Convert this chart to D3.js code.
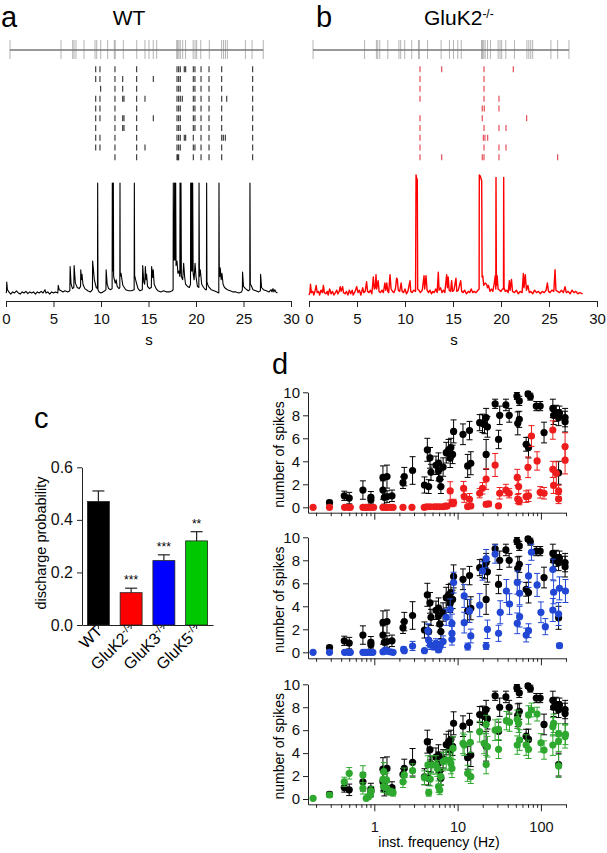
<!DOCTYPE html>
<html><head><meta charset="utf-8">
<script src="https://cdn.jsdelivr.net/npm/d3@7"></script>
<style>body{margin:0;background:#fff}svg text{font-family:"Liberation Sans",Arial,sans-serif}</style>
</head><body>
<svg id="fig" width="607" height="853"></svg>
<script>
// ---------------- DATA ----------------
const stimTimes = [0.42,5.79,7.02,7.16,7.37,8.21,9.37,9.55,9.97,10.7,11.4,11.5,12.35,13.76,14.63,15.05,15.5,15.86,17.97,18.07,18.2,18.35,18.6,18.9,19.7,19.9,20.07,20.5,21.4,22.7,22.9,23.1,23.3,25.2,25.9,27.08];

const rasterWT = [
 [9.44,9.89,11.47,13.75,18.0,18.17,18.35,18.77,18.91,19.72,19.89,20.53,21.37,22.7,25.96],
 [9.44,9.89,11.47,12.28,13.75,15.51,18.0,18.17,18.35,19.72,19.89,20.53,21.37,22.7,25.96],
 [9.96,11.47,12.28,13.75,18.0,18.17,18.35,19.72,19.89,20.53,21.37,22.7,25.96],
 [9.44,9.89,11.47,12.28,12.42,13.75,14.63,18.0,18.17,18.35,18.56,19.72,19.89,20.53,21.37,22.7,23.23,25.96],
 [9.44,9.89,11.47,13.75,18.0,18.17,18.35,19.72,19.89,20.53,21.37,22.7,25.96],
 [9.44,9.89,11.47,12.28,12.42,13.75,15.51,18.0,18.17,18.35,19.72,19.89,20.53,21.37,22.7,25.96],
 [9.44,11.47,12.28,12.42,13.75,18.0,18.17,18.35,19.72,19.89,20.53,21.37,22.7,25.96],
 [9.44,9.89,11.47,13.75,18.0,18.17,18.35,18.77,18.91,19.72,20.53,21.37,22.7,22.88,23.09,25.96],
 [9.44,9.89,11.47,13.75,14.63,18.0,18.17,18.35,19.72,19.89,20.53,21.37,22.7,25.96],
 [11.47,13.75,18.0,18.08,18.17,19.72,20.53,21.37,22.7,25.96]
];
const rasterKO = [
 [11.56,13.82,18.23,21.28],
 [11.56,18.23],
 [11.56,18.23],
 [11.56,18.23,19.79],
 [18.05,18.26,19.79],
 [11.56,18.05,22.67],
 [11.56,18.23,19.79,20.52],
 [11.56,18.16,18.33,18.61],
 [11.56,18.23,19.79,20.52],
 [11.56,13.82,18.05,18.23,19.79,25.9]
];

const traceWT = [[0,0],[0.05,1],[0.08,10],[0.15,3],[0.3,1],[0.5,-1],[0.7,1],[0.9,0],[1.1,2],[1.3,0],[1.5,-1],[1.7,1],[1.9,0],[2.1,1.5],[2.3,-0.5],[2.5,1],[2.7,0],[2.9,1],[3.1,-1],[3.3,1],[3.5,0],[3.7,1.5],[3.9,0],[4.1,3],[4.2,0],[4.4,1],[4.6,-1],[4.8,1],[5.0,0],[5.2,1],[5.45,0],[5.5,7],[5.6,3],[5.8,2],[6.0,1],[6.2,2],[6.5,1],[6.72,2],[6.75,24],[6.85,8],[7.0,4],[7.14,5],[7.17,25],[7.3,9],[7.5,5],[7.7,4],[7.85,6],[7.87,21],[7.95,12],[8.0,17],[8.1,8],[8.3,4],[8.6,2],[8.9,1],[9.1,3],[9.12,29],[9.3,12],[9.5,5],[9.63,4],[9.65,100],[9.68,3],[9.8,1],[10.0,0],[10.2,1],[10.4,2],[10.52,3],[10.54,21],[10.65,8],[10.8,4],[11.0,3],[11.17,4],[11.19,100],[11.21,20],[11.28,20],[11.3,100],[11.33,15],[11.5,9],[11.6,12],[11.7,6],[11.9,4],[11.98,5],[12.0,100],[12.02,15],[12.1,18],[12.3,7],[12.6,3],[12.9,2],[13.2,2],[13.49,3],[13.51,100],[13.54,16],[13.7,10],[13.9,4],[14.1,2],[14.35,3],[14.39,25],[14.5,10],[14.6,8],[14.67,24],[14.75,12],[14.8,17],[14.9,6],[15.1,4],[15.3,5],[15.33,24],[15.45,14],[15.5,21],[15.6,8],[15.8,4],[16.0,2],[16.3,1],[16.6,2],[16.9,1],[17.2,1],[17.5,2],[17.59,3],[17.61,100],[17.64,30],[17.72,30],[17.75,100],[17.78,30],[17.84,30],[17.86,100],[17.9,25],[18.0,29],[18.1,18],[18.2,20],[18.3,15],[18.32,100],[18.36,18],[18.4,18],[18.42,100],[18.46,15],[18.6,12],[18.7,27],[18.8,15],[18.9,8],[19.1,6],[19.3,5],[19.42,8],[19.44,100],[19.47,20],[19.52,20],[19.54,100],[19.57,20],[19.62,20],[19.65,100],[19.7,18],[19.8,12],[19.9,27],[20.0,15],[20.15,6],[20.3,5],[20.32,100],[20.36,15],[20.45,21],[20.6,8],[20.8,5],[21.0,3],[21.1,3],[21.12,100],[21.15,10],[21.3,6],[21.6,3],[21.9,2],[22.2,1],[22.4,0],[22.42,100],[22.45,22],[22.5,15],[22.55,23],[22.65,12],[22.73,18],[22.85,8],[23.0,5],[23.3,3],[23.6,2],[23.9,1],[24.2,1],[24.5,0],[24.8,1],[24.88,3],[24.9,19],[25.0,6],[25.2,4],[25.5,2],[25.66,3],[25.68,100],[25.72,8],[25.8,7],[26.0,3],[26.3,2],[26.6,1],[26.78,2],[26.8,17],[26.9,5],[27.1,3],[27.4,2],[27.7,1],[27.9,3],[28.0,1],[28.1,4],[28.2,1],[28.3,3],[28.4,1],[28.56,0]];

const traceKO = [[0,0],[0.1,2],[0.15,9],[0.25,2],[0.4,3],[0.5,0],[0.65,4],[0.75,8],[0.85,2],[1.0,3],[1.1,0],[1.25,4],[1.4,2],[1.5,8],[1.6,2],[1.75,1],[1.9,3],[2.0,0],[2.15,5],[2.3,1],[2.45,3],[2.6,0],[2.75,2],[2.9,4],[3.0,1],[3.15,3],[3.25,7],[3.35,3],[3.5,7],[3.6,2],[3.75,1],[3.9,3],[4.05,0],[4.2,4],[4.35,1],[4.5,4],[4.6,0],[4.8,3],[4.97,7],[5.1,2],[5.25,4],[5.4,0],[5.6,6],[5.7,2],[5.85,3],[6.0,11],[6.1,3],[6.25,2],[6.4,4],[6.55,1],[6.7,15],[6.8,5],[6.9,6],[6.98,17],[7.05,5],[7.2,12],[7.3,3],[7.45,2],[7.6,4],[7.75,2],[7.9,10],[8.0,4],[8.1,10],[8.2,3],[8.3,2],[8.44,17],[8.55,5],[8.7,3],[8.85,2],[9.0,5],[9.13,14],[9.2,13],[9.3,4],[9.45,3],[9.6,10],[9.7,3],[9.85,2],[10.0,5],[10.15,1],[10.3,3],[10.52,12],[10.6,3],[10.75,2],[10.9,4],[11.1,3],[11.15,100],[11.2,98],[11.28,96],[11.32,5],[11.45,4],[11.6,2],[11.8,4],[11.98,16],[12.05,5],[12.19,16],[12.3,4],[12.45,2],[12.6,4],[12.75,1],[12.9,3],[13.05,2],[13.2,5],[13.35,2],[13.47,19],[13.55,4],[13.7,6],[13.85,2],[14.0,4],[14.15,2],[14.34,17],[14.42,6],[14.5,15],[14.6,4],[14.75,3],[14.86,12],[14.95,3],[15.1,4],[15.31,14],[15.4,3],[15.55,4],[15.8,12],[15.9,3],[16.05,2],[16.2,4],[16.4,1],[16.6,3],[16.75,2],[16.9,5],[17.05,2],[17.2,3],[17.4,2],[17.6,4],[17.72,5],[17.74,100],[17.85,99],[17.99,95],[18.03,15],[18.1,16],[18.2,8],[18.35,10],[18.5,9],[18.6,6],[18.7,8],[18.85,3],[19.0,5],[19.15,3],[19.3,10],[19.4,16],[19.46,5],[19.48,98],[19.52,8],[19.6,16],[19.7,5],[19.85,4],[20.0,3],[20.15,5],[20.26,5],[20.28,98],[20.32,6],[20.45,3],[20.6,4],[20.75,2],[20.87,12],[20.95,4],[21.09,13],[21.2,3],[21.4,2],[21.6,4],[21.8,1],[22.0,3],[22.2,2],[22.33,18],[22.4,6],[22.53,17],[22.65,4],[22.8,8],[22.95,2],[23.1,3],[23.3,1],[23.5,4],[23.7,2],[23.9,3],[24.1,1],[24.3,3],[24.5,2],[24.7,4],[24.83,10],[24.95,3],[25.1,2],[25.3,4],[25.5,3],[25.63,21],[25.72,4],[25.9,3],[26.1,2],[26.3,4],[26.5,2],[26.67,7],[26.8,2],[27.0,3],[27.2,1],[27.4,4],[27.6,2],[27.8,3],[28.0,1],[28.2,2],[28.5,1]];

const timeTicks = [0,5,10,15,20,25,30];

const barGroups = ["WT","GluK2","GluK3","GluK5"];
const barKO = ["","-/-","-/-","-/-"];
const barValues = [0.47,0.123,0.245,0.32];
const barErrors = [0.04,0.017,0.022,0.035];
const barStars = ["","***","***","**"];
const barTicks = [0,0.2,0.4,0.6];

// [frequency Hz, number of spikes, SEM]
const spikesWT = [[0.29,0.41,0.2],[0.436,1.0,0.4],[0.5,0.8,0.5],[0.73,1.5,0.8],[0.91,0.87,0.5],[0.91,0.65,0.4],
[1.27,2.6,1.0],[1.42,2.67,1.0],[1.27,1.5,0.8],[1.32,0.87,0.6],[1.42,0.93,0.5],[1.63,1.0,0.5],
[2.21,2.14,0.5],[2.29,2.67,0.8],[2.88,3.2,1.2],[4.0,1.94,0.7],[4.49,1.8,0.6],[4.33,5.0,1.0],
[4.66,4.3,0.9],[4.79,3.04,0.7],[5.5,3.65,0.8],[5.9,3.83,0.9],[5.9,3.2,0.9],[6.1,2.46,0.7],
[6.3,1.8,0.6],[6.7,3.5,0.8],[7.3,4.75,0.9],[7.8,5.0,0.9],[8.15,4.26,0.8],[8.3,5.2,0.8],
[8.7,4.6,0.8],[8.95,6.6,1.0],[11.6,6.35,0.9],[13.9,6.67,0.8],[13.2,3.6,1.0],[14.4,3.83,1.0],
[18.4,7.36,0.7],[19.9,7.3,0.8],[21,7.2,0.8],[22,7.8,0.8],[22.8,7.0,0.9],[22,4.6,1.3],
[28.2,9.0,0.4],[31,5.9,0.8],[32,8.0,0.8],[38,8.9,0.5],[41.6,8.0,0.6],[51.5,9.68,0.3],
[55,9.25,0.4],[52.7,7.3,1.0],[55,7.65,0.7],[66.5,5.48,0.6],[71,5.19,0.9],[70,9.86,0.2],
[74.6,9.62,0.3],[88,8.8,0.4],[98,8.8,0.4],[109,6.5,0.9],[139,8.6,0.8],[142,8.0,0.8],
[153,8.17,0.7],[163,7.8,0.7],[167,8.2,0.6],[163,3.0,1.0],[195,7.8,0.8],[195,7.45,0.9]];

const spikesK2 = [[0.184,0,0],[0.29,0,0],[0.44,0,0],[0.49,0,0],[0.515,0,0],[0.73,0,0],[0.78,0,0],[0.83,0,0],[0.9,0,0],[0.98,0,0],[1.27,0,0],[1.36,0,0],[1.42,0,0],[1.56,0,0],[1.68,0,0],[2.21,0,0],[2.83,0,0],[3.98,0,0],[4.3,0.05,0],[4.7,0.05,0],[5.25,0.05,0],[5.66,0.05,0],[6.1,0.05,0],[6.7,0.05,0],[7.1,0.1,0],[7.45,0.1,0],[8.15,1.42,0.8],[8.55,0.35,0.3],[8.95,0.4,0.3],
[11.8,1.65,0.6],[12,0.93,0.5],[13.9,0.7,0.5],[13.2,0.06,0.1],[14.4,0.12,0.1],[18.4,1.22,0.4],[19.9,1.65,0.5],[22,2.46,0.9],[22,0.26,0.2],[23.5,0.29,0.2],[28.2,3.68,1.0],[31,0.12,0.1],[32,1.22,0.5],[38,1.5,0.5],[41.6,1.22,0.4],[52,2.6,0.7],[54,1.8,0.6],[52.7,0.72,0.4],[55,0.52,0.3],[66.5,0.93,0.5],[71,1.0,0.5],[70,3.48,0.9],[77,6.2,0.9],[90,4.03,0.8],[98,1.3,0.5],[109,1.22,0.5],[139,6.72,0.8],[139,3.3,0.7],[142,1.9,0.7],[153,2.96,1.0],[163,1.42,0.5],[163,0.72,0.4],[195,5.28,1.2],[195,4.1,1.2]];

const spikesK3 = [[0.184,0,0],[0.29,0,0],[0.44,0,0],[0.49,0,0],[0.515,0,0],[0.73,0,0],[0.78,0,0],[0.83,0,0],[0.9,0,0],[0.96,0,0],[1.27,0.05,0],[1.36,0.2,0.2],[1.42,0.1,0.1],[1.56,0.05,0],[1.68,0,0],[2.25,0.26,0.2],[2.29,0.14,0.1],[2.88,0.55,0.4],[4.0,0.14,0.1],[4.4,1.88,0.6],[4.49,1.07,0.5],[4.7,0.64,0.4],[5.25,0.5,0.3],[5.5,0.78,0.4],[5.9,0.2,0.2],[6.0,0.43,0.3],[6.2,0.7,0.4],[6.7,0.93,0.5],[7.3,3.04,0.7],[8.15,3.74,0.9],[8.55,2.52,0.8],[8.55,1.65,0.6],[8.55,1.13,0.5],[8.95,6.06,0.9],[12,4.9,1.0],[12,2.58,0.9],[13.2,0.5,0.3],[13.9,3.6,1.0],[14.4,1.42,0.6],[18.4,4.1,1.0],[19.9,7.07,0.8],[22,8.14,0.8],[22.8,2.0,0.8],[22,0.55,0.3],[28.2,8.55,0.8],[31,1.65,0.7],[32.5,3.48,1.0],[38.5,5.33,1.0],[42,4.2,0.9],[52,6.06,1.0],[55.5,5.13,1.0],[55.5,3.1,0.9],[52,2.52,0.9],[66.5,1.5,0.6],[71,1.88,0.6],[71,6.64,1.0],[77,8.7,0.7],[90,5.86,1.0],[100,3.48,0.9],[113,2.23,0.7],[139,7.2,0.9],[142,5.22,1.0],[139,3.68,1.0],[163,3.33,1.0],[167,5.56,1.0],[167,0.58,0.2],[197,5.33,1.0]];

const spikesK5 = [[0.184,0.06,0.1],[0.29,0.35,0.2],[0.436,1.5,0.4],[0.5,2.24,0.5],[0.73,2.1,0.8],[0.73,0.93,0.5],[0.8,0.06,0.1],[0.85,0.2,0.2],[0.9,0.43,0.3],[0.91,0.7,0.4],
[1.27,1.72,0.6],[1.29,1.08,0.5],[1.3,2.38,0.8],[1.4,1.66,0.6],[1.42,0.93,0.5],[1.56,0.64,0.3],[1.68,0.55,0.3],[2.21,1.5,0.5],[2.29,2.1,0.6],[2.88,2.47,0.6],
[4.0,1.86,0.6],[4.4,2.97,0.8],[4.5,0.55,0.3],[4.7,1.74,0.6],[4.9,2.97,0.8],[5.5,2.97,0.8],[5.7,2.67,0.7],[5.9,1.08,0.5],[6.1,0.78,0.4],[6.3,1.95,0.7],[6.7,3.26,0.8],[7.3,3.4,0.8],[8.0,3.4,0.9],[8.3,3.1,0.9],[8.8,4.42,1.0],[8.55,2.67,0.8],
[11.6,4.85,0.9],[12,4.7,0.9],[13.2,2.24,0.7],[14.4,1.95,0.6],[14.2,4.94,0.9],[18.4,5.87,0.9],[20.8,4.85,0.9],[22,6.5,0.8],[22,3.0,0.8],[22.8,4.56,0.9],[28.2,6.0,0.9],[31,6.07,0.9],[31,4.33,0.8],[38.5,6.83,0.8],[42,6.7,0.8],[52,6.95,0.8],[54,6.6,0.8],[52,4.7,0.8],[55.5,5.14,0.9],[66.5,4.7,0.9],[71,4.33,0.8],[71,7.33,0.8],[77,7.76,0.6],[90,7.4,0.6],[100,4.9,0.8],[109,4.27,0.8],[139,6.3,0.8],[142,6.6,0.8],[139,4.7,0.9],[163,5.67,0.9],[163,5.05,0.9],[163,2.88,1.0],[195,5.44,1.0],[197,5.64,0.9]];

const spikeTicks = [0,2,4,6,8,10];
const freqMajor = [1,10,100];
const freqMinor = [0.2,0.3,0.4,0.5,0.6,0.7,0.8,0.9,2,3,4,5,6,7,8,9,20,30,40,50,60,70,80,90,200];

// ---------------- DRAWING ----------------
const svg = d3.select("#fig");
const AX = "#222";

function styleAxis(g, size){
  g.attr("font-family", null).attr("font-size", null);
  g.selectAll("path.domain").attr("stroke", AX);
  g.selectAll(".tick line").attr("stroke", AX);
  g.selectAll(".tick text").attr("fill", "#111").style("font-size", size + "px");
}
function letter(x, y, s){
  svg.append("text").attr("x", x).attr("y", y).text(s).style("font-size", "29px").attr("fill", "#000");
}

// Panels a and b
function tracePanel(opts){
  const x = d3.scaleLinear().domain([0,30]).range(opts.xr);
  const y = d3.scaleLinear().domain([0,100]).range([opts.yBase, opts.yTop]);
  const g = svg.append("g");
  g.append("line").attr("x1", x(stimTimes[0])).attr("x2", x(stimTimes[stimTimes.length-1]))
    .attr("y1", 50).attr("y2", 50).attr("stroke", "#333").attr("stroke-width", 1);
  g.selectAll("line.stim").data(stimTimes).join("line").attr("class","stim")
    .attr("x1", d=>x(d)).attr("x2", d=>x(d)).attr("y1", 40).attr("y2", 59)
    .attr("stroke", "#777").attr("stroke-opacity", 0.55).attr("stroke-width", 1);
  const row = d3.scalePoint().domain(d3.range(opts.raster.length)).range([69.3, 157.3]);
  opts.raster.forEach((r, i) => {
    g.selectAll(null).data(r).join("line")
      .attr("x1", d=>x(d)).attr("x2", d=>x(d)).attr("y1", row(i)-3).attr("y2", row(i)+3)
      .attr("stroke", opts.rasterColor).attr("stroke-opacity", 0.8).attr("stroke-width", 1.2);
  });
  const line = d3.line().x(d=>x(d[0])).y(d=>y(d[1]));
  g.append("path").datum(opts.trace).attr("d", line).attr("fill","none")
    .attr("stroke", opts.color).attr("stroke-width", opts.sw).attr("stroke-linejoin","round");
  const ax = g.append("g").attr("transform", "translate(0,301)")
    .call(d3.axisBottom(x).tickValues(timeTicks).tickSize(6).tickSizeOuter(0).tickPadding(6).tickFormat(d3.format("d")));
  styleAxis(ax, 15);
  g.append("text").attr("x", opts.sx).attr("y", 345).attr("text-anchor","middle").text("s").style("font-size","15px");
}
tracePanel({xr:[6,291], yBase:293, yTop:183, trace:traceWT, raster:rasterWT, color:"#000", sw:1.1, rasterColor:"#111", sx:149});
tracePanel({xr:[309,597], yBase:295, yTop:175, trace:traceKO, raster:rasterKO, color:"#ff0000", sw:1.4, rasterColor:"#e0202c", sx:454});

letter(1, 27, "a");
letter(316, 27, "b");
svg.append("text").attr("x", 129).attr("y", 25).attr("text-anchor","middle").text("WT").style("font-size","21px");
const tb = svg.append("text").attr("x", 424).attr("y", 25).style("font-size","21px");
tb.append("tspan").text("GluK2");
tb.append("tspan").text("-/-").attr("dy", -7).style("font-size","12px");

// Panel c
letter(34, 428, "c");
const cx = d3.scaleBand().domain(barGroups).range([82,213]).paddingInner(0.33).paddingOuter(0.165);
const cy = d3.scaleLinear().domain([0,0.6]).range([625,467.3]);
const barColors = ["#000000","#ff0000","#0000ff","#00c800"];
const gc = svg.append("g");
gc.selectAll("line.err").data(barGroups).join("line")
  .attr("x1", d=>cx(d)+cx.bandwidth()/2).attr("x2", d=>cx(d)+cx.bandwidth()/2)
  .attr("y1", (d,i)=>cy(barValues[i])).attr("y2", (d,i)=>cy(barValues[i]+barErrors[i]))
  .attr("stroke", "#222").attr("stroke-width", 1.2);
gc.selectAll("line.cap").data(barGroups).join("line")
  .attr("x1", d=>cx(d)+cx.bandwidth()/2-6).attr("x2", d=>cx(d)+cx.bandwidth()/2+6)
  .attr("y1", (d,i)=>cy(barValues[i]+barErrors[i])).attr("y2", (d,i)=>cy(barValues[i]+barErrors[i]))
  .attr("stroke", "#222").attr("stroke-width", 1.2);
gc.selectAll("rect").data(barGroups).join("rect")
  .attr("x", d=>cx(d)).attr("width", cx.bandwidth())
  .attr("y", (d,i)=>cy(barValues[i])).attr("height", (d,i)=>cy(0)-cy(barValues[i]))
  .attr("fill", (d,i)=>barColors[i]).attr("stroke", "#222").attr("stroke-width", 0.8);
gc.selectAll("text.star").data(barGroups).join("text").attr("class","star")
  .attr("x", d=>cx(d)+cx.bandwidth()/2).attr("y", (d,i)=>cy(barValues[i]+barErrors[i])-4)
  .attr("text-anchor","middle").text((d,i)=>barStars[i]).style("font-size","12px");
const cyAx = gc.append("g").attr("transform","translate(82,0)")
  .call(d3.axisLeft(cy).tickValues(barTicks).tickSize(5).tickSizeOuter(0).tickPadding(4).tickFormat(d3.format(".1f")));
styleAxis(cyAx, 16);
const cxAx = gc.append("g").attr("transform","translate(0,625)")
  .call(d3.axisBottom(cx).tickSize(4).tickSizeOuter(0).tickFormat(""));
styleAxis(cxAx, 14);
barGroups.forEach((gname, i) => {
  const t = gc.append("text")
    .attr("transform", `translate(${cx(gname)+cx.bandwidth()/2+5},${632}) rotate(-45)`)
    .attr("text-anchor","end").style("font-size","16px");
  t.append("tspan").text(gname);
  if (barKO[i]) t.append("tspan").text(barKO[i]).attr("dy", -6).style("font-size","11px");
});
gc.append("text").attr("transform","translate(46,543) rotate(-90)").attr("text-anchor","middle")
  .text("discharge probability").style("font-size","14.5px");

// Panel d
letter(272, 374, "d");
const fx = d3.scaleLog().domain([0.16, 200]).range([308, 566]);
const dPanels = [
  {y0:507.3, y10:392.3, axY:512.7, series:spikesK2, color:"#ee1c1c", labels:false},
  {y0:652.3, y10:537.3, axY:658.3, series:spikesK3, color:"#2147d4", labels:false},
  {y0:799.0, y10:684.3, axY:804.3, series:spikesK5, color:"#2ea82e", labels:true}
];
function drawSeries(g, y, data, color){
  const s = g.append("g");
  const withErr = data.filter(d=>d[2]>0);
  s.selectAll("line.e").data(withErr).join("line")
    .attr("x1", d=>fx(d[0])).attr("x2", d=>fx(d[0]))
    .attr("y1", d=>y(d[1]-d[2])).attr("y2", d=>y(d[1]+d[2]))
    .attr("stroke", color).attr("stroke-width", 1);
  s.selectAll("line.ct").data(withErr).join("line")
    .attr("x1", d=>fx(d[0])-3).attr("x2", d=>fx(d[0])+3)
    .attr("y1", d=>y(d[1]+d[2])).attr("y2", d=>y(d[1]+d[2]))
    .attr("stroke", color).attr("stroke-width", 1);
  s.selectAll("line.cb").data(withErr).join("line")
    .attr("x1", d=>fx(d[0])-3).attr("x2", d=>fx(d[0])+3)
    .attr("y1", d=>y(d[1]-d[2])).attr("y2", d=>y(d[1]-d[2]))
    .attr("stroke", color).attr("stroke-width", 1);
  s.selectAll("circle").data(data).join("circle")
    .attr("cx", d=>fx(d[0])).attr("cy", d=>y(d[1])).attr("r", 3.6).attr("fill", color);
}
dPanels.forEach(p => {
  const yv = (p.axY - p.y0) / (p.y10 - p.y0) * 10;
  const y = d3.scaleLinear().domain([yv, 10]).range([p.axY, p.y10]);
  const g = svg.append("g");
  drawSeries(g, y, spikesWT, "#000");
  drawSeries(g, y, p.series, p.color);
  const ya = g.append("g").attr("transform","translate(308,0)")
    .call(d3.axisLeft(y).tickValues(spikeTicks).tickSize(5).tickSizeOuter(0).tickPadding(3));
  styleAxis(ya, 15);
  const xa = g.append("g").attr("transform",`translate(0,${p.axY})`)
    .call(d3.axisBottom(fx).tickValues(freqMajor).tickSize(7).tickSizeOuter(0).tickPadding(10)
      .tickFormat(p.labels ? d3.format("d") : ""));
  styleAxis(xa, 14.5);
  const xm = g.append("g").attr("transform",`translate(0,${p.axY})`)
    .call(d3.axisBottom(fx).tickValues(freqMinor).tickSize(3.5).tickSizeOuter(0).tickFormat(""));
  styleAxis(xm, 14);
  xm.select("path.domain").remove();
  g.append("text").attr("transform",`translate(284,${(p.y10+p.axY)/2 + 2}) rotate(-90)`)
    .attr("text-anchor","middle").text("number of spikes").style("font-size","14px");
});
svg.append("text").attr("x", 439).attr("y", 847).attr("text-anchor","middle")
  .text("inst. frequency (Hz)").style("font-size","14px");
</script>
</body></html>
